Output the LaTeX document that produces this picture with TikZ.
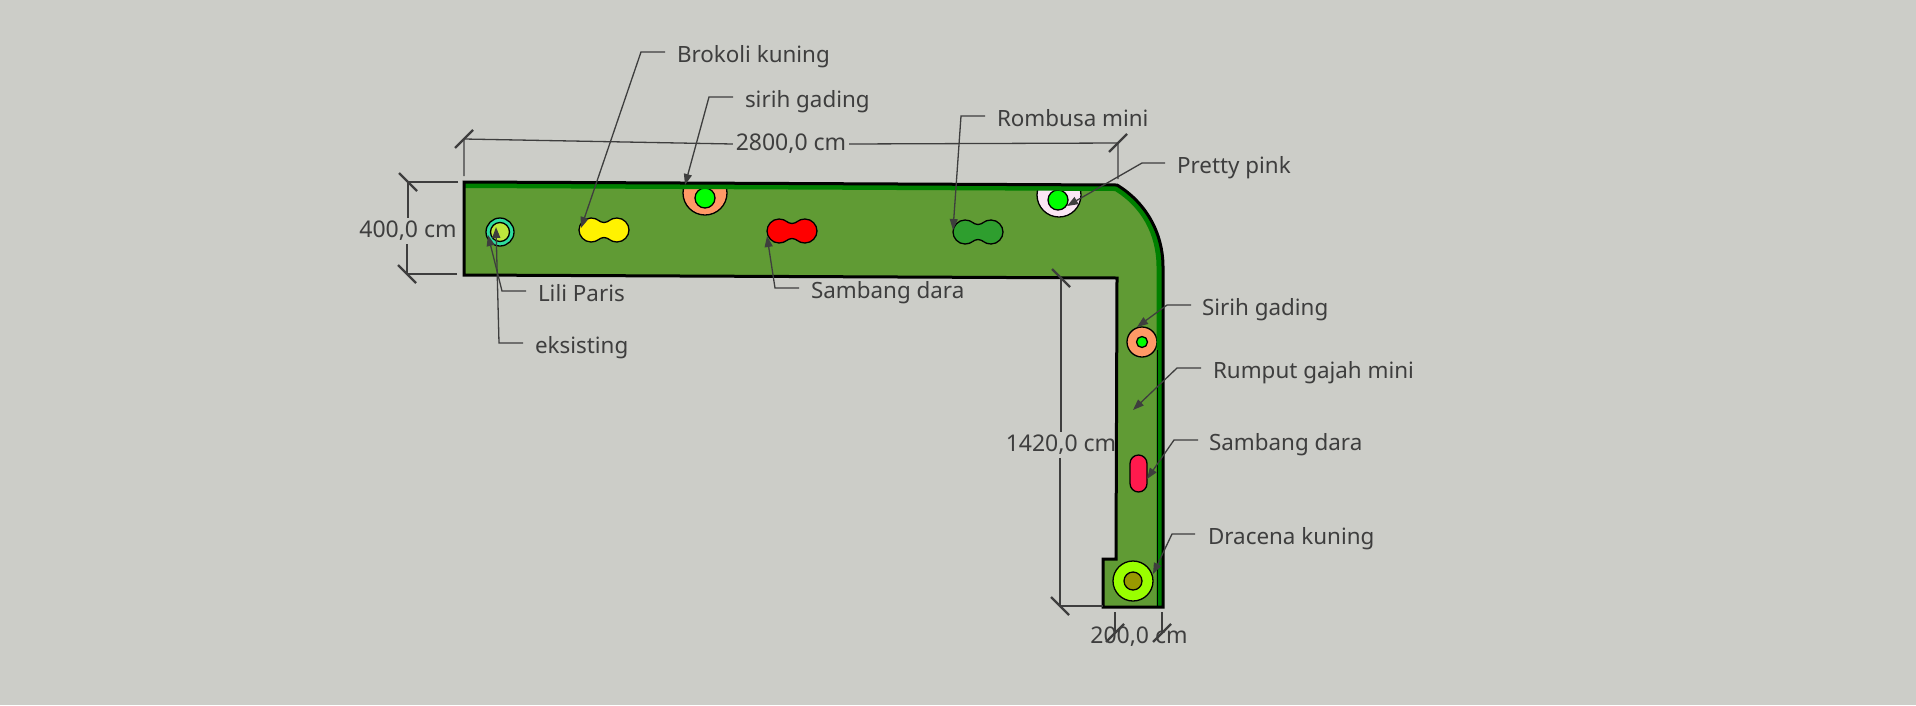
\documentclass[tikz,border=0pt]{standalone}
\usepackage{fontspec}
\setmainfont{Noto Sans}
\usetikzlibrary{arrows.meta,calc}
\definecolor{bgc}{HTML}{CCCDC8}
\definecolor{grass}{HTML}{609B34}
\definecolor{strip}{HTML}{008000}
\definecolor{ink}{HTML}{3E3E3E}
\definecolor{orangeP}{HTML}{FF9966}
\definecolor{pinkP}{HTML}{FBE6F4}
\definecolor{ringP}{HTML}{2EDC9E}
\definecolor{innerP}{HTML}{BDE83C}
\definecolor{darkP}{HTML}{2E9E2E}
\definecolor{crimsonP}{HTML}{FF1A4D}
\definecolor{limeP}{HTML}{99FF00}
\definecolor{oliveP}{HTML}{999900}
\tikzset{
  x=1pt,y=-1pt,
  lbl/.style={inner sep=0pt,outer sep=0pt,anchor=base west,text=ink,font=\fontsize{22.4}{26}\selectfont},
  dimtxt/.style={inner sep=3pt,outer sep=0pt,text=ink,font=\fontsize{23}{26}\selectfont},
  leader/.style={draw=ink,line width=1.3pt,-{Triangle[length=11pt,width=8pt]}},
  dimline/.style={draw=ink,line width=1.3pt},
  dimtick/.style={draw=ink,line width=2.4pt},
  plant/.style={draw=black,line width=1.3pt},
  disc/.style={plant,circle,inner sep=0pt},
  peanut/.pic={
    \path[pic actions] (-13,-12) .. controls (-6,-12) and (-5,-7.5) .. (0,-7.5)
      .. controls (5,-7.5) and (6,-12) .. (13,-12)
      .. controls (20,-12) and (25,-6) .. (25,0)
      .. controls (25,6) and (20,12) .. (13,12)
      .. controls (6,12) and (5,7.5) .. (0,7.5)
      .. controls (-5,7.5) and (-6,12) .. (-13,12)
      .. controls (-20,12) and (-25,6) .. (-25,0)
      .. controls (-25,-6) and (-20,-12) .. (-13,-12) -- cycle;
  }
}
\begin{document}
\begin{tikzpicture}
\path[fill=bgc] (0,0) rectangle (1916,705);
\useasboundingbox (0,0) rectangle (1916,705);
% planting bed
\path[fill=grass] (464,182) -- (1117,185) .. controls (1145,202) and (1163,232) .. (1163,267)
  -- (1163,607) -- (1103,607) -- (1103,559) -- (1116,559) -- (1117,278) -- (464,275) -- cycle;
% half-round plants, cut by the kerb
\begin{scope}
\clip (464,182) -- (1117,185) -- (1163,267) -- (1163,607) -- (464,607) -- cycle;
\node[disc,fill=orangeP,minimum size=44pt] (pOrangeHalf) at (705,193) {};
\node[disc,fill=pinkP,minimum size=44pt] (pPinkHalf) at (1059,195) {};
\end{scope}
\node[disc,fill=green,minimum size=20pt] (pGreenA) at (705,198) {};
\node[disc,fill=green,minimum size=20pt] (pGreenB) at (1058,200) {};
\node[disc,fill=ringP,minimum size=28pt] (pLiliOut) at (500,232) {};
\node[disc,fill=innerP,minimum size=19pt] (pLiliIn) at (500,232) {};
\pic[plant,fill=yellow] at (604,230) {peanut};
\pic[plant,fill=red] at (792,231) {peanut};
\pic[plant,fill=darkP] at (978,232) {peanut};
\node[disc,fill=orangeP,minimum size=30pt] (pSirih) at (1142,342) {};
\node[disc,fill=green,minimum size=11pt] (pSirihIn) at (1142,342) {};
\node[plant,rounded corners=8.5pt,fill=crimsonP,minimum width=17pt,minimum height=37pt,inner sep=0pt] (pSambang) at (1138.5,473.5) {};
\node[disc,fill=limeP,minimum size=40pt] (pDracena) at (1133,581) {};
\node[disc,fill=oliveP,minimum size=18pt] (pDracenaIn) at (1133,581) {};
% green kerb strip
\path[fill=strip] (464,182) -- (1117,185) .. controls (1145,202) and (1163,232) .. (1163,267)
  -- (1163,607) -- (1156.5,607) -- (1156.5,267) .. controls (1156.5,234) and (1141,207) .. (1115,191) -- (464,188) -- cycle;
\draw[black,line width=1pt] (1157,350) -- (1157,607);
% outline
\draw[black,line width=3pt,line join=miter] (464,182) -- (1117,185) .. controls (1145,202) and (1163,232) .. (1163,267)
  -- (1163,607) -- (1103,607) -- (1103,559) -- (1116,559) -- (1117,278) -- (464,275) -- cycle;
% dimensions
\node[dimtxt] (d2800) at (791,144) {2800,0 cm};
\node[dimtxt] (d400) at (408,231) {400,0 cm};
\node[dimtxt] (d1420) at (1061,445) {1420,0 cm};
\node[dimtxt] (d200) at (1139,637) {200,0 cm};
\coordinate (a1) at (464,139); \coordinate (a2) at (1118,143);
\coordinate (a1e) at (464,176); \coordinate (a2e) at (1118,179);
\draw[dimline] (a1e) -- (a1) -- (d2800.west);
\draw[dimline] (a2e) -- (a2) -- (d2800.east);
\coordinate (b1) at (408,182); \coordinate (b2) at (407,274);
\coordinate (b1e) at (458,182); \coordinate (b2e) at (457,274);
\draw[dimline] (b1e) -- (b1) -- (d400.north -| b1);
\draw[dimline] (b2e) -- (b2) -- (d400.south -| b2);
\coordinate (c1) at (1061,278); \coordinate (c2) at (1060,606); \coordinate (c2e) at (1103,606);
\draw[dimline] (c1) -- (d1420.north -| c1);
\draw[dimline] (c2e) -- (c2) -- (d1420.south -| c2);
\coordinate (e1) at (1115,633); \coordinate (e2) at (1162,633);
\coordinate (e1e) at (1115,612); \coordinate (e2e) at (1162,612);
\draw[dimline] (e1e) -- (e1); \draw[dimline] (e2e) -- (e2);
\foreach \p in {a1,a2,e1,e2} \draw[dimtick] ($(\p)+(-9,9)$) -- ($(\p)+(9,-9)$);
\foreach \p in {b1,b2,c1,c2} \draw[dimtick] ($(\p)+(-9,-9)$) -- ($(\p)+(9,9)$);
% labels
\node[lbl] (lBrokoli) at (677,62) {Brokoli kuning};
\node[lbl] (lSirihA) at (745,107) {sirih gading};
\node[lbl] (lRombusa) at (997,126) {Rombusa mini};
\node[lbl] (lPretty) at (1177,173) {Pretty pink};
\node[lbl] (lLili) at (538,301) {Lili Paris};
\node[lbl] (lEks) at (535,353) {eksisting};
\node[lbl] (lSamA) at (811,298) {Sambang dara};
\node[lbl] (lSirihB) at (1202,315) {Sirih gading};
\node[lbl] (lRumput) at (1213,378) {Rumput gajah mini};
\node[lbl] (lSamB) at (1209,450) {Sambang dara};
\node[lbl] (lDracena) at (1208,544) {Dracena kuning};
% leaders
\draw[leader] ([xshift=-12pt,yshift=10pt]lBrokoli.base west) -- (641,52) -- (581,228);
\draw[leader] ([xshift=-12pt,yshift=10pt]lSirihA.base west) -- (709,97) -- (685,185);
\draw[leader] ([xshift=-12pt,yshift=10pt]lRombusa.base west) -- (961,116) -- (953,230);
\draw[leader] ([xshift=-12pt,yshift=10pt]lPretty.base west) -- (1142,163) -- (1067,206);
\draw[leader] ([xshift=-12pt,yshift=10pt]lLili.base west) -- (502,291) -- (488,235);
\draw[leader] ([xshift=-12pt,yshift=10pt]lEks.base west) -- (499,343) -- (496,227);
\draw[leader] ([xshift=-12pt,yshift=10pt]lSamA.base west) -- (775,288) -- (767,236);
\draw[leader] ([xshift=-11pt,yshift=10pt]lSirihB.base west) -- (1167,305) -- (1137,327);
\draw[leader] ([xshift=-12pt,yshift=10pt]lRumput.base west) -- (1177,368) -- (1133,410);
\draw[leader] ([xshift=-11pt,yshift=10pt]lSamB.base west) -- (1174,440) -- (1147,479);
\draw[leader] ([xshift=-13pt,yshift=10pt]lDracena.base west) -- (1172,534) -- (1153,574);
\end{tikzpicture}
\end{document}
